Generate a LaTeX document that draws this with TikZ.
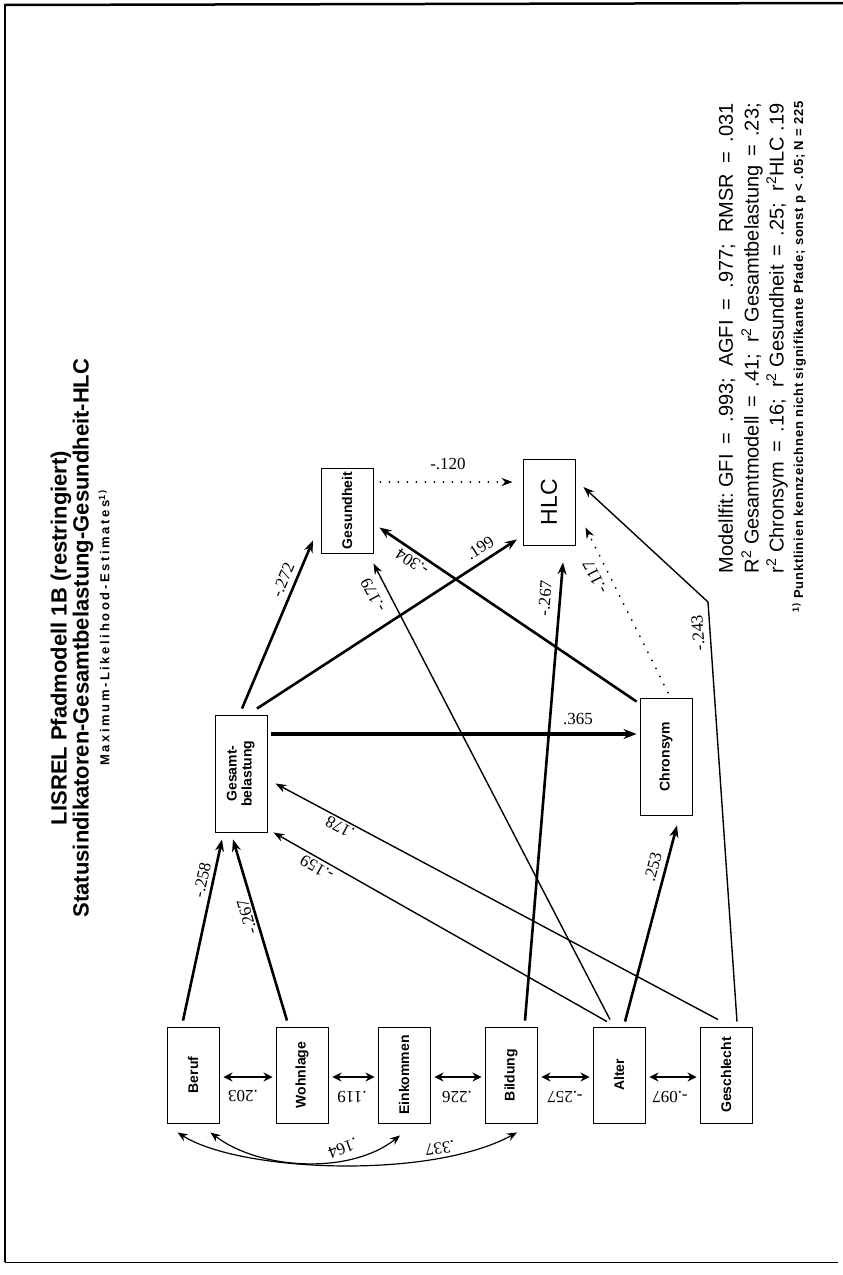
\documentclass[tikz,border=0pt]{standalone}
\usepackage{fontspec}
\setmainfont{Liberation Sans}
\newfontfamily\numfont{Liberation Serif}
\usetikzlibrary{arrows.meta}
\begin{document}
\begin{tikzpicture}[x=1pt,y=-1pt,
  box/.style={draw,line width=0.9pt,minimum width=52pt,inner sep=0pt,font=\bfseries\fontsize{14}{15}\selectfont},
  lab/.style={inner sep=0pt,font=\numfont\fontsize{17}{17}\selectfont},
  heavy/.style={line width=2.6pt,-{Stealth[length=12pt,width=9pt]}},
  heavier/.style={line width=3.4pt,-{Stealth[length=13pt,width=10pt]}},
  light/.style={line width=1.4pt,-{Stealth[length=11pt,width=8pt]}},
  dots/.style={line width=2pt,line cap=round,dash pattern=on 0pt off 9pt,-{Stealth[length=11pt,width=8pt]}},
  dbl/.style={line width=2pt,{Stealth[length=9pt,width=9pt]}-{Stealth[length=9pt,width=9pt]}},
  curv/.style={line width=1.2pt,{Stealth[length=10pt,width=8pt]}-{Stealth[length=10pt,width=8pt]}},
  fit/.style={rotate=90,anchor=east,inner sep=0pt,font=\fontsize{20}{20}\selectfont},
]
\useasboundingbox (0,0) rectangle (843,1275);
% frame
\draw[line width=2.5pt] (4,5) -- (843,3);
\draw[line width=1.4pt] (5,4) -- (5,1262);
\draw[line width=0.8pt] (5,1262) -- (838,1262);

% title
\node[rotate=90,inner sep=0pt,font=\bfseries\fontsize{22}{22}\selectfont] (t1) at (61,638) {LISREL Pfadmodell 1B (restringiert)};
\node[rotate=90,inner sep=0pt,font=\bfseries\fontsize{22}{22}\selectfont] (t2) at (83,638) {Statusindikatoren-Gesamtbelastung-Gesundheit-HLC};
\node[rotate=90,inner sep=0pt,font=\bfseries\fontsize{13}{13}\selectfont\addfontfeature{LetterSpace=20}] (t3) at (104,628) {Maximum-Likelihood-Estimates\textsuperscript{1)}};

% boxes
\node[box,minimum height=96pt] (beruf) at (193,1075) {\rotatebox{90}{Beruf}};
\node[box,minimum height=96pt] (wohn) at (302,1075) {\rotatebox{90}{Wohnlage}};
\node[box,minimum height=96pt] (eink) at (404,1075) {\rotatebox{90}{Einkommen}};
\node[box,minimum height=96pt] (bild) at (511,1075) {\rotatebox{90}{Bildung}};
\node[box,minimum height=96pt] (alter) at (619,1075) {\rotatebox{90}{Alter}};
\node[box,minimum height=96pt] (gesch) at (726,1075) {\rotatebox{90}{Geschlecht}};
\node[box,minimum height=117pt] (gesamt) at (241,773.5) {\rotatebox{90}{\begin{tabular}{@{}c@{}}Gesamt-\\belastung\end{tabular}}};
\node[box,minimum height=85pt] (gesund) at (347,510.5) {\rotatebox{90}{Gesundheit}};
\node[box,minimum height=86pt,font=\fontsize{23}{23}\selectfont] (hlc) at (549,502) {\rotatebox{90}{HLC}};
\node[box,minimum height=117pt] (chron) at (666,756.5) {\rotatebox{90}{Chronsym}};
\coordinate (bendpt) at (708,602);

% paths
\draw[heavy] ([xshift=-10pt,yshift=6pt]beruf.north) -- ([xshift=-19pt,yshift=-7pt]gesamt.south);
\draw[heavy] ([xshift=-15pt,yshift=6pt]wohn.north) -- ([xshift=-8pt,yshift=-7pt]gesamt.south);
\draw[heavy] ([xshift=1pt,yshift=6pt]gesamt.north) -- ([xshift=-34pt,yshift=13pt]gesund.south);
\draw[heavy] ([xshift=16pt,yshift=6pt]gesamt.north) -- ([xshift=-32pt,yshift=6pt]hlc.south);
\draw[heavier] ([xshift=4pt,yshift=39.5pt]gesamt.east) -- ([xshift=-3pt,yshift=22.5pt]chron.west);
\draw[heavy] ([xshift=-3pt,yshift=-4pt]chron.north west) -- ([xshift=6pt,yshift=-17pt]gesund.east);
\draw[light] ([xshift=-9pt,yshift=7pt]alter.north) -- ([yshift=-10pt]gesund.south east);
\draw[light] ([xshift=-12pt,yshift=5pt]alter.north) -- ([xshift=6pt]gesamt.south east);
\draw[light] ([xshift=-8pt,yshift=7pt]gesch.north) -- ([xshift=8pt,yshift=-10pt]gesamt.east);
\draw[heavy] ([xshift=6pt,yshift=5pt]alter.north) -- ([xshift=11pt,yshift=-10pt]chron.south);
\draw[heavy] ([xshift=14pt,yshift=6pt]bild.north) -- ([xshift=14pt,yshift=-17pt]hlc.south);
\draw[dots] ([xshift=2pt,yshift=5pt]chron.north) -- ([xshift=10pt,yshift=18pt]hlc.south east);
\draw[dots] ([xshift=7pt,yshift=28.5pt]gesund.east) -- ([xshift=-10pt,yshift=20pt]hlc.west);
\draw[light] ([xshift=11pt,yshift=5pt]gesch.north) -- (bendpt) -- ([xshift=8pt,yshift=15pt]hlc.east);

% correlations
\draw[dbl] ([xshift=4pt,yshift=-2pt]beruf.east) -- ([xshift=-3pt,yshift=-2pt]wohn.west);
\draw[dbl] ([xshift=4pt,yshift=-2pt]wohn.east) -- ([xshift=-3pt,yshift=-2pt]eink.west);
\draw[dbl] ([xshift=4pt,yshift=-2pt]eink.east) -- ([xshift=-3pt,yshift=-2pt]bild.west);
\draw[dbl] ([xshift=4pt,yshift=-2pt]bild.east) -- ([xshift=-3pt,yshift=-2pt]alter.west);
\draw[dbl] ([xshift=4pt,yshift=-2pt]alter.east) -- ([xshift=-3pt,yshift=-2pt]gesch.west);
\draw[curv] ([xshift=11pt,yshift=-9pt]beruf.south west) .. controls (240,1172) and (430,1180) .. ([xshift=6pt,yshift=-9pt]bild.south);
\draw[curv] ([xshift=-9pt,yshift=-9pt]beruf.south east) .. controls (260,1170) and (350,1175) .. ([xshift=-4pt,yshift=-12pt]eink.south);

% path labels
\node[lab,rotate=77.9] (p1) at (202,880) {-.258};
\node[lab,rotate=106.5] (p2) at (247,917) {-.267};
\node[lab,rotate=67.2] (p3) at (283,580) {-.272};
\node[lab,rotate=33.2] (p4) at (480,548) {.199};
\node[lab] (p5) at (578,719) {.365};
\node[lab,rotate=145.8] (p6) at (412,562) {-.304};
\node[lab,rotate=117.6] (p7) at (373,595) {-.179};
\node[lab,rotate=150.6] (p8) at (317,868) {-.159};
\node[lab,rotate=152] (p9) at (340,827) {.178};
\node[lab,rotate=75] (p10) at (653,867) {.253};
\node[lab,rotate=85.3] (p11) at (545,598) {-.267};
\node[lab,rotate=116.6] (p12) at (595,577) {-.117};
\node[lab] (p13) at (448,464) {-.120};
\node[lab,rotate=94] (p14) at (698,633) {-.243};
\node[lab,rotate=180] (c1) at (243,1096) {.203};
\node[lab,rotate=180] (c2) at (352,1097) {.119};
\node[lab,rotate=180] (c3) at (457,1097) {.226};
\node[lab,rotate=180] (c4) at (565,1097) {-.257};
\node[lab,rotate=180] (c5) at (670,1097) {-.097};
\node[lab,rotate=200] (c6) at (343,1148) {.164};
\node[lab,rotate=188] (c7) at (440,1148) {.337};

% model fit
\node[fit] (f1) at (727,103) {\makebox[470pt][l]{Modellfit:\ GFI\hfill=\hfill.993;\ \ AGFI\hfill=\hfill.977;\ \ RMSR\hfill=\hfill.031}};
\node[fit] (f2) at (752,103) {\makebox[470pt][l]{R\textsuperscript{2} Gesamtmodell\hfill=\hfill.41;\ \ r\textsuperscript{2} Gesamtbelastung\hfill=\hfill.23;}};
\node[fit] (f3) at (777,103) {\makebox[470pt][l]{r\textsuperscript{2} Chronsym\hfill=\hfill.16;\ \ r\textsuperscript{2} Gesundheit\hfill=\hfill.25;\ \ r\textsuperscript{2}HLC\ .19}};
\node[fit,font=\bfseries\fontsize{13}{13}\selectfont\addfontfeature{LetterSpace=6}] (f4) at (799,101) {\textsuperscript{1)} Punktlinien kennzeichnen nicht signifikante Pfade; sonst p < .05; N = 225};
\end{tikzpicture}
\end{document}
